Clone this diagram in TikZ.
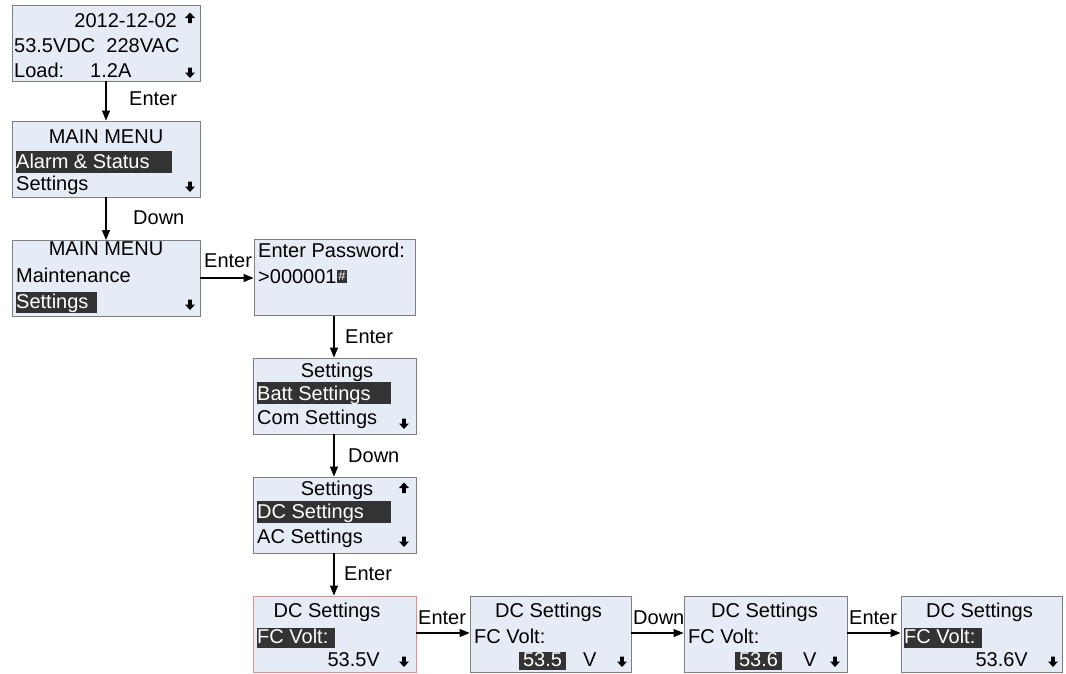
\documentclass[tikz,border=0pt]{standalone}
\usepackage{fontspec}
\setmainfont{Liberation Sans}
\usetikzlibrary{arrows.meta}
\definecolor{boxfill}{HTML}{E6ECF6}
\definecolor{boxline}{HTML}{7F7F7F}
\definecolor{redline}{HTML}{F08A8A}
\definecolor{hl}{HTML}{333333}
\tikzset{
  screen/.style={draw=boxline, fill=boxfill, line width=0.9pt, inner sep=0pt, minimum height=76pt},
  wide/.style={screen, minimum width=188pt},
  narrow/.style={screen, minimum width=162pt},
  txt/.style={inner sep=0pt, font=\fontsize{20}{23}\selectfont, text=black},
  wtxt/.style={txt, text=white},
  conn/.style={draw=black, line width=1.2pt, -{Triangle[length=10pt,width=8pt]}},
  lbl/.style={txt, anchor=west},
  uparr/.pic={\fill (-1.9,0) -- (-1.9,-5) -- (-5,-5) -- (0,-10.5) -- (5,-5) -- (1.9,-5) -- (1.9,0) -- cycle;},
  dnarr/.pic={\fill (-1.9,-10.5) -- (-1.9,-5.5) -- (-5,-5.5) -- (0,0) -- (5,-5.5) -- (1.9,-5.5) -- (1.9,-10.5) -- cycle;}
}
\begin{document}
\begin{tikzpicture}[x=1pt,y=-1pt]
\useasboundingbox (0,0) rectangle (1066,673);
% boxes
\node[wide] (b1) at (106,43) {};
\node[wide] (b2) at (106,159) {};
\node[wide] (b3) at (106,278.5) {};
\node[narrow, minimum width=161pt] (pw) at (334.5,277.5) {};
\node[narrow, minimum width=163pt] (s1) at (334.5,396) {};
\node[narrow, minimum width=163pt] (s2) at (334.5,515) {};
\node[narrow, minimum width=163pt, draw=redline] (da) at (334.5,634) {};
\node[narrow, minimum width=161pt] (db) at (550.5,634) {};
\node[narrow, minimum width=163pt] (dc) at (765.5,634) {};
\node[narrow, minimum width=161pt] (dd) at (981.5,634) {};
% box 1
\node[txt, anchor=base east] (t1a) at (177,27) {2012-12-02};
\pic at (190,23) {uparr};
\node[txt, anchor=base west] (t1b) at (14,52) {53.5VDC\ \ 228VAC};
\node[txt, anchor=base west] (t1c) at (14,77) {Load:};
\node[txt, anchor=base west] (t1d) at (90,77) {1.2A};
\pic at (190,78) {dnarr};
% box 2
\node[txt, anchor=base] (t2a) at (106,143) {MAIN MENU};
\fill[hl] (16,151) rectangle (172,173);
\node[wtxt, anchor=base west] (t2b) at (16,168) {Alarm \& Status};
\node[txt, anchor=base west] (t2c) at (16,190) {Settings};
\pic at (190,192) {dnarr};
% box 3
\node[txt, anchor=base] (t3a) at (106,255) {MAIN MENU};
\node[txt, anchor=base west] (t3b) at (16,282) {Maintenance};
\fill[hl] (16,292) rectangle (97,313);
\node[wtxt, anchor=base west] (t3c) at (16,308) {Settings};
\pic at (190,310) {dnarr};
% password
\node[txt, anchor=base west] (tpa) at (258,257) {Enter Password:};
\node[txt, anchor=base west] (tpb) at (258,283) {>000001};
\node[fill=hl, inner sep=0pt, minimum width=10pt, minimum height=13pt, text=white, font=\fontsize{13}{13}\selectfont, anchor=south west] (cur) at (tpb.base east) {\#};
% settings 1
\node[txt, anchor=base] (ts1a) at (337,377) {Settings};
\fill[hl] (257,382) rectangle (391,404);
\node[wtxt, anchor=base west] (ts1b) at (257,400) {Batt Settings};
\node[txt, anchor=base west] (ts1c) at (257,424) {Com Settings};
\pic at (404,429) {dnarr};
% settings 2
\node[txt, anchor=base] (ts2a) at (337,495) {Settings};
\pic at (404,493) {uparr};
\fill[hl] (257,501) rectangle (391,523);
\node[wtxt, anchor=base west] (ts2b) at (257,518) {DC Settings};
\node[txt, anchor=base west] (ts2c) at (257,543) {AC Settings};
\pic at (404,547) {dnarr};
% bottom A
\node[txt, anchor=base] (tda) at (327,617) {DC Settings};
\fill[hl] (257,628) rectangle (335,648);
\node[wtxt, anchor=base west] (tdb) at (257,643) {FC Volt:};
\node[txt, anchor=base east] (tdc) at (380,666) {53.5V};
\pic at (404,667) {dnarr};
% bottom B
\node[txt, anchor=base] (tea) at (548.5,617) {DC Settings};
\node[txt, anchor=base west] (teb) at (474,643) {FC Volt:};
\fill[hl] (519,652) rectangle (566,670);
\node[wtxt, anchor=base] (tec) at (542.5,666) {53.5};
\node[txt, anchor=base west] (ted) at (583,666) {V};
\pic at (622,667) {dnarr};
% bottom C
\node[txt, anchor=base] (tfa) at (764.5,617) {DC Settings};
\node[txt, anchor=base west] (tfb) at (688,643) {FC Volt:};
\fill[hl] (735,652) rectangle (782,670);
\node[wtxt, anchor=base] (tfc) at (758.5,666) {53.6};
\node[txt, anchor=base west] (tfd) at (803,666) {V};
\pic at (835,667) {dnarr};
% bottom D
\node[txt, anchor=base] (tga) at (979.5,617) {DC Settings};
\fill[hl] (904,628) rectangle (982,648);
\node[wtxt, anchor=base west] (tgb) at (904,643) {FC Volt:};
\node[txt, anchor=base east] (tgc) at (1028,666) {53.6V};
\pic at (1053,667) {dnarr};
% connectors
\draw[conn] (b1) -- (b2);
\draw[conn] (b2) -- (b3);
\draw[conn] (b3.east |- 0,278) -- (pw.west |- 0,278);
\draw[conn] (pw.south -| 334,0) -- (s1.north -| 334,0);
\draw[conn] (s1.south -| 334,0) -- (s2.north -| 334,0);
\draw[conn] (s2.south -| 334,0) -- (da.north -| 334,0);
\draw[conn] (da.east |- 0,633) -- (db.west |- 0,633);
\draw[conn] (db.east |- 0,633) -- (dc.west |- 0,633);
\draw[conn] (dc.east |- 0,633) -- (dd.west |- 0,633);
% labels
\node[lbl] (l1) at (129,99) {Enter};
\node[lbl] (l2) at (133,218) {Down};
\node[lbl] (l3) at (204,261) {Enter};
\node[lbl] (l4) at (345,337) {Enter};
\node[lbl] (l5) at (348,456) {Down};
\node[lbl] (l6) at (344,574) {Enter};
\node[lbl] (l7) at (418,618) {Enter};
\node[lbl] (l8) at (633,618) {Down};
\node[lbl] (l9) at (849,618) {Enter};
\end{tikzpicture}
\end{document}
